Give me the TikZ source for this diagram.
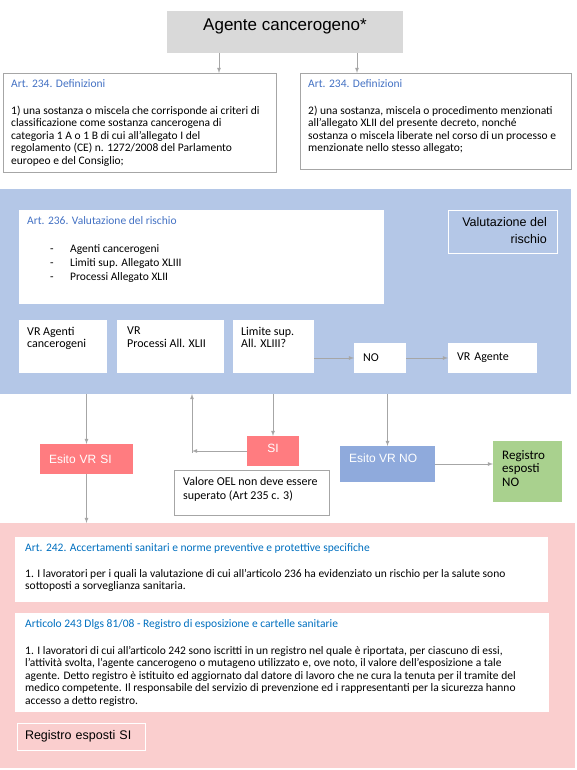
\documentclass[tikz,border=0pt]{standalone}
\usepackage{fontspec}
\setmainfont{Carlito}
\newfontfamily\arialfont{Liberation Sans}
\usetikzlibrary{positioning,calc}

\definecolor{grigio}{HTML}{D9D9D9}
\definecolor{bordo}{HTML}{A6A6A6}
\definecolor{titolo}{HTML}{4472C4}
\definecolor{titolob}{HTML}{0070C0}
\definecolor{blu}{HTML}{B4C7E7}
\definecolor{rosa}{RGB}{250,206,206}
\definecolor{rosso}{HTML}{FF7C80}
\definecolor{bluscuro}{HTML}{8FAADC}
\definecolor{verde}{HTML}{A9D18E}
\definecolor{grigiofr}{HTML}{A6A6A6}

\begin{document}
\begin{tikzpicture}[x=1pt, y=-1pt]
    \tikzset{riquadro/.style={
        anchor=north west, inner sep=0pt, outer sep=0pt, fill=white
      },
      testo/.style={anchor=north west, align=left, inner xsep=8pt, inner ysep=6pt,
        font=\fontsize{11.5}{12.5}\selectfont},
      voce/.style={anchor=north west, align=left, inner xsep=8pt, inner ysep=7pt,
        font=\fontsize{12}{12.5}\selectfont},
      esito/.style={riquadro, text=white, align=left, inner xsep=9pt,
        font=\arialfont\fontsize{12}{14}\selectfont},
      freccia/.style={draw=grigiofr, line width=0.8pt, -latex}
    }

    \useasboundingbox (0,0) rectangle (576,770);

    \node[riquadro, fill=grigio, minimum width=236, minimum height=42,
      label={[anchor=north, inner ysep=7.5pt, font=\arialfont\fontsize{17}{19}\selectfont]north:Agente cancerogeno*}] (A) at (167,11) {};

    \node[riquadro, draw=bordo, minimum width=273, minimum height=99,
      label={[testo]north west:{{\color{titolo}Art. 234. Definizioni}\\[14.5pt]
        1) una sostanza o miscela che corrisponde ai criteri di\\
        classificazione come sostanza cancerogena di\\
        categoria 1 A o 1 B di cui all'allegato I del\\
        regolamento (CE) n. 1272/2008 del Parlamento\\
        europeo e del Consiglio;}}] (D1) at (3,73) {};

    \node[riquadro, draw=bordo, minimum width=271, minimum height=96,
      label={[testo]north west:{{\color{titolo}Art. 234. Definizioni}\\[14.5pt]
        2) una sostanza, miscela o procedimento menzionati\\
        all'allegato XLII del presente decreto, nonché\\
        sostanza o miscela liberate nel corso di un processo e\\
        menzionate nello stesso allegato;}}] (D2) at (300,73) {};

    % valutazione del rischio
    \node[riquadro, fill=blu, minimum width=571, minimum height=205] (V) at (0,189) {};

    \node[riquadro, minimum width=365, minimum height=94,
      label={[testo]north west:{{\color{titolo}Art. 236. Valutazione del rischio}\\[15.5pt]
        \makebox[43pt][l]{\hspace{23pt}-}Agenti cancerogeni\\[1.5pt]
        \makebox[43pt][l]{\hspace{23pt}-}Limiti sup. Allegato XLIII\\[1.5pt]
        \makebox[43pt][l]{\hspace{23pt}-}Processi Allegato XLII}}] (V1) at (19,210) {};

    \node[riquadro, fill=blu, draw=white, minimum width=109, minimum height=43,
      label={[anchor=north east, align=right, inner xsep=10pt, inner ysep=7.5pt,
        font=\arialfont\fontsize{12.5}{17}\selectfont]north east:{Valutazione del\\rischio}}] (V2) at (448,210) {};

    \node[riquadro, minimum width=88, minimum height=53,
      label={[voce]north west:{VR Agenti\\cancerogeni}}] (VRa) at (19,320) {};
    \node[riquadro, minimum width=107, minimum height=53,
      label={[voce, inner xsep=10pt]north west:{VR\\Processi All. XLII}}] (VRp) at (117,320) {};
    \node[riquadro, minimum width=81, minimum height=53,
      label={[voce]north west:{Limite sup.\\All. XLIII?}}] (VRl) at (233,320) {};
    \node[riquadro, text width=34, inner xsep=9pt, minimum height=30, align=left,
      font=\fontsize{12}{14}\selectfont] (NO) at (354,343) {NO};
    \node[riquadro, text width=71, inner xsep=9pt, minimum height=30, align=left,
      font=\fontsize{12}{14}\selectfont] (VRag) at (448,343) {VR Agente};

    \draw[freccia] ([xshift=52]A.south west) coordinate (a1) -- (a1 |- D1.north);
    \draw[freccia] ([xshift=-46]A.south east) coordinate (a2) -- (a2 |- D2.north);
    \draw[freccia] (VRl.east |- NO.west) -- (NO.west);
    \draw[freccia] (NO.east) -- (VRag.west);

    % esiti
    \node[esito, fill=rosso, text width=75, minimum height=30] (E1) at (40,444) {Esito VR SI};
    \node[esito, fill=rosso, align=center, text width=34, minimum height=30,
      inner ysep=4pt, text depth=6pt] (SI) at (247,436) {SI};
    \node[riquadro, draw=bordo, minimum width=155, minimum height=45,
      label={[voce, inner xsep=9pt, inner ysep=6.5pt, font=\fontsize{12}{14}\selectfont]north west:{Valore OEL non deve essere\\superato (Art 235 c. 3)}}] (OEL) at (174,470) {};
    \node[esito, fill=bluscuro, minimum width=95, minimum height=36,
      label={[anchor=north west, inner xsep=9pt, inner ysep=7.5pt, text=white,
        font=\arialfont\fontsize{12}{14}\selectfont]north west:Esito VR NO}] (E2) at (340,446) {};
    \node[riquadro, fill=verde, minimum width=69, minimum height=61,
      label={[anchor=north west, align=left, inner xsep=9pt, inner ysep=9pt,
        font=\fontsize{13}{13.5}\selectfont]north west:{Registro\\esposti\\NO}}] (RNO) at (493,441) {};

    % sorveglianza e registro
    \node[riquadro, fill=rosa, minimum width=575, minimum height=245] (R) at (0,523) {};

    \node[riquadro, minimum width=533, minimum height=65,
      label={[testo, inner xsep=10pt]north west:{{\color{titolob}Art. 242. Accertamenti sanitari e norme preventive e protettive specifiche}\\[13.5pt]
        1. I lavoratori per i quali la valutazione di cui all'articolo 236 ha evidenziato un rischio per la salute sono\\
        sottoposti a sorveglianza sanitaria.}}] (B242) at (15,537) {};

    \node[riquadro, minimum width=534, minimum height=99,
      label={[testo, inner xsep=10pt]north west:{{\color{titolob}Articolo 243 Dlgs 81/08 - Registro di esposizione e cartelle sanitarie}\\[14.5pt]
        1. I lavoratori di cui all’articolo 242 sono iscritti in un registro nel quale è riportata, per ciascuno di essi,\\
        l’attività svolta, l’agente cancerogeno o mutageno utilizzato e, ove noto, il valore dell’esposizione a tale\\
        agente. Detto registro è istituito ed aggiornato dal datore di lavoro che ne cura la tenuta per il tramite del\\
        medico competente. Il responsabile del servizio di prevenzione ed i rappresentanti per la sicurezza hanno\\
        accesso a detto registro.}}] (B243) at (15,613) {};

    \node[riquadro, fill=rosa, draw=white, text width=112, inner xsep=8pt, minimum height=27,
      align=left, font=\arialfont\fontsize{12.5}{14}\selectfont] (RSI) at (17,723) {Registro esposti SI};

    \draw[freccia] (E1.north |- V.south) -- (E1.north);
    \draw[freccia] (E1.south) -- (E1.south |- R.north);
    \draw[freccia] (SI.north |- V.south) -- (SI.north);
    \draw[freccia] (SI.west) -- ++(-55,0) coordinate (c1);
    \draw[freccia] ([yshift=-2]c1) -- (c1 |- V.south);
    \draw[freccia] (E2.north |- V.south) -- (E2.north);
    \draw[freccia] (E2.east) -- (E2.east -| RNO.west);
\end{tikzpicture}
\end{document}
